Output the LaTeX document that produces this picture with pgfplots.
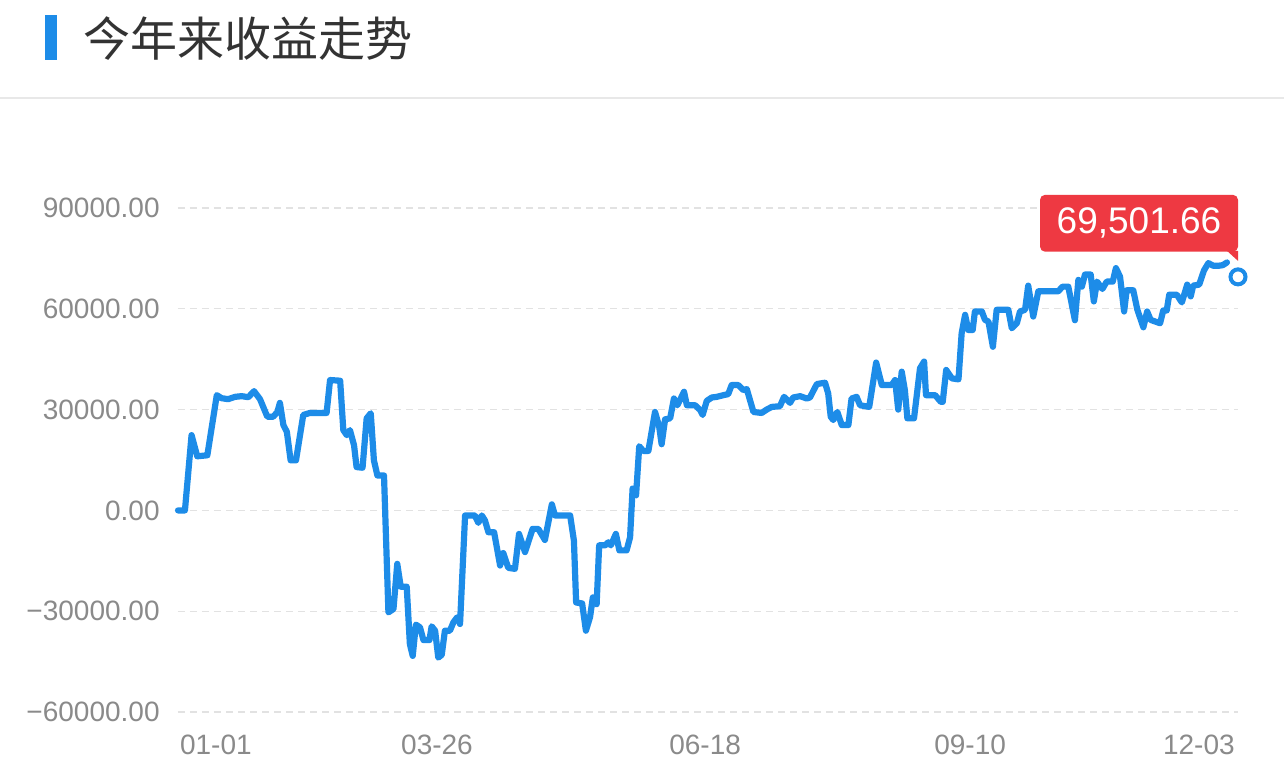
\documentclass[border=0pt]{standalone}
\usepackage{fontspec}
\usepackage{pgfplots}
\pgfplotsset{compat=1.18}
\setmainfont{Liberation Sans}
\newfontfamily\cjk{Noto Sans CJK SC}
\definecolor{lineblue}{RGB}{29,140,232}
\definecolor{tickgray}{RGB}{138,138,138}
\definecolor{gridgray}{RGB}{226,226,226}
\definecolor{titlegray}{RGB}{51,51,51}
\definecolor{callred}{RGB}{238,57,66}
\definecolor{sepgray}{RGB}{232,232,232}

% day index from 01-01, profit value
\pgfplotstableread{
d v
0 0
2.2 0
4.3 22400
6.1 16100
9.3 16400
12.3 34300
13.8 33400
15.9 33100
18.1 33800
20.2 34000
22.3 33700
24.1 35500
26.0 33100
28.3 27900
30.2 27900
31.5 29300
32.3 32000
33.4 25400
34.5 23400
35.7 14900
37.4 14900
39.7 28400
41.8 29000
47.1 29000
48.2 38800
51.4 38600
52.4 23900
53.5 22400
54.5 23900
55.8 19400
56.6 12900
58.5 12700
59.8 27400
61.1 28900
62.1 14900
63.2 10400
65.3 10400
66.7 -30350
68.3 -29350
69.5 -15900
70.6 -22700
72.5 -22700
73.5 -39800
74.4 -43300
75.4 -34000
76.7 -34800
77.8 -38600
79.7 -38600
80.4 -34500
81.5 -35800
82.5 -43800
83.6 -43000
84.6 -35800
86.2 -35800
87.3 -33300
88.5 -31800
89.4 -33800
91.0 -1500
94.1 -1500
95.2 -3700
96.3 -1500
97.3 -3000
98.4 -6500
100.2 -6500
102.1 -16400
103.1 -12700
104.7 -17100
106.8 -17400
108.1 -7000
110.0 -12400
112.4 -5500
114.2 -5500
116.3 -8800
118.5 1800
119.5 -1500
124.3 -1500
125.5 -9000
126.2 -27400
128.1 -27700
129.3 -35800
130.6 -31800
131.5 -25900
132.7 -27900
133.5 -10400
135.4 -10400
136.4 -9500
137.2 -10400
138.8 -7000
139.9 -11900
142.2 -11900
143.3 -8000
144.1 6500
145.2 4500
146.2 19100
147.5 17700
149.1 17700
151.2 29300
152.5 25100
153.3 19700
154.4 27100
156.0 27400
157.2 33300
158.3 31300
160.4 35300
161.3 31300
163.9 31300
165.5 29900
166.3 28400
167.6 32600
169.2 33600
170.8 33800
172.9 34300
174.4 34600
175.5 37300
177.6 37300
179.2 35800
180.3 36100
182.4 29300
185.0 29000
186.6 30000
188.2 30800
190.8 31000
192.1 33800
194.0 32000
195.0 33600
197.2 34000
199.3 33300
200.3 33600
202.5 37600
205.1 38000
206.1 34800
206.9 27900
207.7 26900
209.0 29300
210.4 25400
212.5 25400
213.5 33300
215.1 33800
216.2 31300
219.1 30800
221.3 44000
223.1 37300
226.2 37300
227.3 38800
228.3 30000
229.4 41300
230.4 35800
231.2 27400
233.3 27400
235.2 42300
236.5 44300
237.1 34300
240.0 34300
241.8 32300
242.4 32300
243.5 41800
245.3 39300
247.4 39000
248.4 52700
249.5 58200
250.5 53700
251.9 53700
252.6 59200
254.8 59200
255.8 56700
256.9 56200
258.3 48700
259.5 59700
263.2 59700
264.3 54200
265.9 55700
266.9 59200
268.5 59700
269.5 66900
271.1 57700
272.7 65200
279.0 65200
280.4 66600
282.2 66600
284.3 56600
285.4 68600
286.5 66600
287.5 70200
289.3 70200
290.3 62200
291.3 68100
293.0 65900
294.4 68100
296.3 68100
297.3 72100
298.6 69600
299.9 59200
300.7 65500
302.8 65500
304.1 59700
306.0 54500
307.2 59200
308.3 56700
311.3 55700
312.3 59500
313.4 59500
314.2 64200
316.6 64200
318.2 61900
319.9 67200
321.0 63700
321.8 66900
323.7 67200
325.2 71400
326.6 73600
328.2 72800
329.8 72800
331.2 73000
332.5 73800
}\profit

\begin{document}
\begin{tikzpicture}
\fill[white] (0,0) rectangle (642pt,388.5pt);
\useasboundingbox (0,0) rectangle (642pt,388.5pt);

% title
\fill[lineblue] (22.5pt,358.5pt) rectangle (28.5pt,381pt);
\node[anchor=west, inner sep=0pt, text=titlegray] at (41.5pt,369.3pt)
  {\cjk\fontsize{23.5}{28}\selectfont 今年来收益走势};
\draw[sepgray, line width=0.8pt] (0,339.5pt) -- (642pt,339.5pt);

\begin{axis}[
  at={(89pt,32.5pt)}, anchor=south west,
  scale only axis, width=530pt, height=252pt,
  xmin=0, xmax=336, ymin=-60000, ymax=90000,
  ytick={-60000,-30000,0,30000,60000,90000},
  yticklabels={−60000.00,−30000.00,0.00,30000.00,60000.00,90000.00},
  xtick={12,82.1,167.1,251.1,323.6},
  xticklabels={01-01,03-26,06-18,09-10,12-03},
  scaled y ticks=false,
  axis line style={draw=none},
  major tick length=0pt,
  ymajorgrids,
  grid style={gridgray, line width=0.7pt, dash pattern=on 3.5pt off 2.5pt},
  tick label style={font=\fontsize{14}{16}\selectfont, text=tickgray},
  yticklabel style={anchor=east, inner sep=0pt, xshift=-9pt},
  xticklabel style={anchor=north, inner sep=0pt, yshift=-11.5pt},
  clip=false,
]
\addplot[lineblue, line width=3.1pt, line join=round, line cap=round] table[x=d, y=v] {\profit};
\addplot[only marks, mark=*, mark size=3.75pt,
  mark options={fill=white, draw=lineblue, line width=2pt}] coordinates {(336,69501.66)};
\coordinate (endpt) at (axis cs:336,69501.66);
\end{axis}

% callout for the last value
\fill[callred, rounded corners=2.5pt] ([shift={(-99pt,12.6pt)}]endpt) rectangle ([shift={(0pt,41pt)}]endpt);
\fill[callred] ([shift={(-5.5pt,13pt)}]endpt) -- ([shift={(0pt,13pt)}]endpt) -- ([shift={(0pt,8pt)}]endpt) -- cycle;
\node[text=white, inner sep=0pt, font=\fontsize{18.5}{22}\selectfont] at ([shift={(-49.5pt,26.8pt)}]endpt) {69,501.66};
\end{tikzpicture}
\end{document}
